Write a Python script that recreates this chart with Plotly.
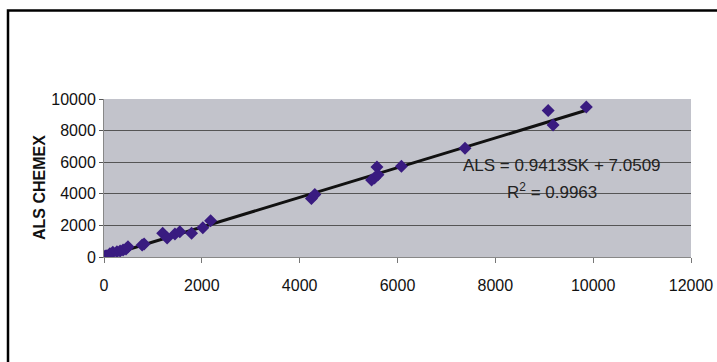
import numpy as np
import plotly.graph_objects as go

# SK assay values (x) against ALS Chemex values (y)
sk = [10, 25, 40, 60, 120, 180, 265, 330, 390, 450, 490, 780, 820,
      1200, 1290, 1450, 1550, 1790, 2020, 2180, 4240, 4310,
      5470, 5530, 5580, 5600, 6080, 7380, 9080, 9180, 9860]
als = [15, 60, 30, 80, 200, 300, 340, 380, 440, 500, 650, 760, 820,
       1500, 1200, 1450, 1600, 1500, 1850, 2300, 3700, 3950,
       4870, 5000, 5700, 5200, 5750, 6880, 9280, 8350, 9500]

# Linear trend parameters
slope = 0.9413
intercept = 7.0509
r_squared = 0.9963

x_ticks = [0, 2000, 4000, 6000, 8000, 10000, 12000]
y_ticks = [0, 2000, 4000, 6000, 8000, 10000]

trend_x = np.array([min(sk), max(sk)])
trend_y = slope * trend_x + intercept

fig = go.Figure()
fig.add_trace(go.Scatter(
    x=trend_x, y=trend_y, mode="lines",
    line=dict(color="#111111", width=3), hoverinfo="skip",
))
fig.add_trace(go.Scatter(
    x=sk, y=als, mode="markers",
    marker=dict(symbol="diamond", size=10, color="#391b80"),
))

font = "Liberation Sans, Arial, sans-serif"
fig.update_layout(
    width=717, height=362,
    margin=dict(l=104, r=26, t=99, b=105),
    paper_bgcolor="white",
    plot_bgcolor="#c2c3cb",
    showlegend=False,
    font=dict(family=font, size=16, color="#111111"),
    xaxis=dict(
        range=[0, 12000], tickvals=x_ticks, ticktext=[str(v) for v in x_ticks],
        showgrid=False, zeroline=False, automargin=False,
        ticks="outside", ticklen=5, tickcolor="#777777", ticklabelstandoff=9,
        showline=True, linecolor="#888888", linewidth=1,
    ),
    yaxis=dict(
        range=[0, 10000], tickvals=y_ticks, ticktext=[str(v) for v in y_ticks],
        showgrid=True, gridcolor="#555555", gridwidth=1, zeroline=False,
        automargin=False,
        ticks="outside", ticklen=4, tickcolor="#555555",
        showline=True, linecolor="#888888", linewidth=1,
    ),
    annotations=[
        dict(x=(39 - 104) / 587, y=(257 - 188) / 158, xref="paper", yref="paper",
             text="<b>ALS CHEMEX</b>", textangle=-90, showarrow=False,
             font=dict(family="Liberation Sans Narrow, Arial Narrow, sans-serif",
                       size=16, color="#111111"),
             xanchor="center", yanchor="middle"),
        dict(x=0.78, y=(257 - 165) / 158, xref="paper", yref="paper",
             text=f"ALS = {slope}SK + {intercept}", showarrow=False,
             font=dict(size=17, color="#222222"), xanchor="center", yanchor="middle"),
        dict(x=0.763, y=(257 - 191) / 158, xref="paper", yref="paper",
             text=f"R<sup>2</sup> = {r_squared}", showarrow=False,
             font=dict(size=17, color="#222222"), xanchor="center", yanchor="middle"),
    ],
    shapes=[
        dict(type="rect", xref="paper", yref="paper",
             x0=(8 - 104) / 587, x1=(730 - 104) / 587,
             y0=(257 - 380) / 158, y1=(257 - 10.5) / 158,
             line=dict(color="black", width=2.5), fillcolor="rgba(0,0,0,0)",
             layer="below"),
    ],
)

fig.write_html("out.html")
